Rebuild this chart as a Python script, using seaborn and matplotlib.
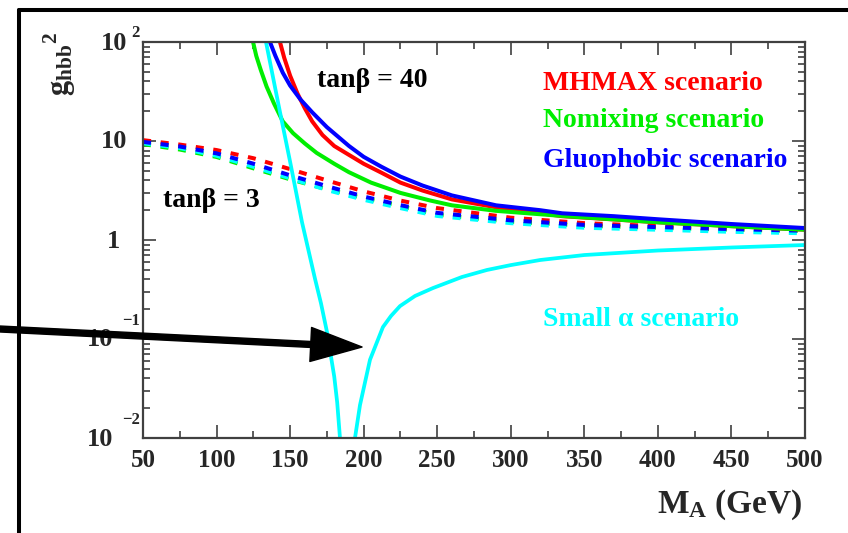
import numpy as np
import matplotlib
matplotlib.use("Agg")
import matplotlib.pyplot as plt
import seaborn as sns
from matplotlib.ticker import LogLocator, MultipleLocator, NullFormatter
from matplotlib.lines import Line2D

# tan(beta) = 40, solid curves
mhmax_m = [143.1, 146, 150, 155, 160, 165, 172, 180, 190, 200, 212, 225, 240, 260, 290, 335, 400, 450, 500]
mhmax_g = [100, 69.2, 45.7, 30.2, 21.4, 15.8, 11.5, 8.9, 7.24, 5.89, 4.79, 3.80, 3.16, 2.57, 2.14, 1.74, 1.51, 1.38, 1.27]

nomix_m = [124.8, 127, 130, 134, 139, 145, 152, 160, 168, 180, 190, 205, 225, 245, 260, 290, 335, 400, 450, 500]
nomix_g = [100, 72.4, 52.5, 35.5, 24.0, 15.8, 12.0, 9.44, 7.59, 5.89, 4.84, 3.80, 2.99, 2.51, 2.24, 1.97, 1.75, 1.51, 1.38, 1.27]

gluo_m = [136.3, 140, 145, 150, 157, 165, 175, 190, 200, 212, 225, 240, 260, 290, 320, 335, 370, 400, 450, 500]
gluo_g = [100, 72.4, 49.0, 36.3, 26.3, 19.5, 13.8, 8.91, 6.92, 5.50, 4.37, 3.55, 2.82, 2.24, 2.0, 1.86, 1.74, 1.62, 1.45, 1.32]

# small alpha: the coupling passes through zero, two branches
smalla_left_m = [133.6, 141.8, 150, 158.1, 166.9, 171, 175.1, 180, 182, 183.9]
smalla_left_g = [100, 24.5, 6.17, 1.51, 0.407, 0.229, 0.117, 0.0417, 0.0229, 0.01]
smalla_right_m = [194.1, 197.5, 204.3, 213.1, 218.6, 224.7, 234.9, 247.1, 266.8, 283.8, 300, 320, 350, 400, 450, 500]
smalla_right_g = [0.01, 0.0215, 0.0617, 0.132, 0.171, 0.215, 0.272, 0.327, 0.423, 0.498, 0.558, 0.628, 0.705, 0.783, 0.84, 0.89]

# tan(beta) = 3, dashed curves
tb3_m = [50, 75, 100, 125, 150, 175, 200, 225, 250, 300, 350, 400, 450, 500]
tb3_mhmax = [10.2, 9.2, 8.1, 6.7, 5.2, 4.0, 3.1, 2.5, 2.1, 1.68, 1.48, 1.38, 1.31, 1.26]
tb3_gluo = [9.8, 8.8, 7.5, 5.9, 4.5, 3.5, 2.75, 2.25, 1.88, 1.58, 1.42, 1.35, 1.29, 1.24]
tb3_nomix = [9.3, 8.2, 6.9, 5.3, 4.1, 3.25, 2.65, 2.2, 1.8, 1.53, 1.39, 1.33, 1.27, 1.23]
tb3_smalla = [9.5, 8.5, 7.1, 5.5, 4.2, 3.2, 2.55, 2.1, 1.75, 1.48, 1.33, 1.27, 1.21, 1.17]

ytick_vals = [0.01, 0.1, 1, 10, 100]
ytick_mant = ['10', '10', '1', '10', '10']
ytick_expo = ['-2', '-1', '', '', '2']

RED, GREEN, BLUE, CYAN = '#ff0000', '#00ee00', '#0000ff', '#00ffff'

sns.set_style("ticks")
plt.rcParams['font.family'] = ['Liberation Serif', 'DejaVu Serif']
plt.rcParams['font.weight'] = 'bold'
plt.rcParams['mathtext.fontset'] = 'custom'
plt.rcParams['mathtext.rm'] = 'Liberation Serif:bold'
plt.rcParams['mathtext.bf'] = 'Liberation Serif:bold'
plt.rcParams['mathtext.it'] = 'Liberation Serif:bold'
plt.rcParams['mathtext.default'] = 'rm'

fig = plt.figure(figsize=(8.48, 5.33), dpi=100)
ax = fig.add_axes([143/848, 95/533, 662/848, 396/533])

dash = (0, (2.0, 2.4))
for g, c in [(tb3_nomix, GREEN), (tb3_smalla, CYAN), (tb3_mhmax, RED), (tb3_gluo, BLUE)]:
    sns.lineplot(x=tb3_m, y=g, color=c, lw=2.9, linestyle=dash, errorbar=None, ax=ax)

sns.lineplot(x=mhmax_m, y=mhmax_g, color=RED, lw=2.9, errorbar=None, ax=ax)
sns.lineplot(x=nomix_m, y=nomix_g, color=GREEN, lw=2.9, errorbar=None, ax=ax)
sns.lineplot(x=gluo_m, y=gluo_g, color=BLUE, lw=2.9, errorbar=None, ax=ax)
sns.lineplot(x=smalla_left_m, y=smalla_left_g, color=CYAN, lw=2.7, errorbar=None, ax=ax)
sns.lineplot(x=smalla_right_m, y=smalla_right_g, color=CYAN, lw=2.7, errorbar=None, ax=ax)

ax.set_yscale('log')
ax.set_xlim(50, 500)
ax.set_ylim(0.01, 100)

ax.xaxis.set_major_locator(MultipleLocator(50))
ax.xaxis.set_minor_locator(MultipleLocator(25))
ax.set_yticks(ytick_vals)
ax.yaxis.set_minor_locator(LogLocator(base=10, subs=np.arange(2, 10)))
ax.yaxis.set_minor_formatter(NullFormatter())

ax.tick_params(which='both', direction='in', top=True, right=True,
               color='#404040', width=1.2, labelsize=18)
ax.tick_params(which='major', length=9.5)
ax.tick_params(which='minor', length=5)
ax.tick_params(axis='x', pad=8)
ax.tick_params(axis='y', labelleft=False)
for s in ax.spines.values():
    s.set_color('#404040')
    s.set_linewidth(1.6)

# ROOT-style decade labels: mantissa and raised exponent drawn separately
for v, mant, expo in zip(ytick_vals, ytick_mant, ytick_expo):
    if expo.startswith('-'):
        mx, ex, ey = -30, -3, 18
    elif expo:
        mx, ex, ey = -16, -3, 9
    else:
        mx = -23 if mant == '1' else -16
    ax.annotate(mant, xy=(0, v), xycoords=('axes fraction', 'data'),
                xytext=(mx, -1), textcoords='offset pixels',
                ha='right', va='center', fontsize=19, fontweight='bold')
    if expo:
        ax.annotate(expo.replace('-', '\u2212'), xy=(0, v), xycoords=('axes fraction', 'data'),
                    xytext=(ex, ey), textcoords='offset pixels',
                    ha='right', va='center', fontsize=12, fontweight='bold')

ax.set_ylabel(r'$\mathrm{g}_{\mathrm{hbb}}{}^{2}$', fontsize=22, loc='top')
ax.yaxis.set_label_coords(-0.098, 1.025)
ax.set_xlabel(r'$\mathrm{M}_{\mathrm{A}}$ (GeV)', fontsize=24, fontweight='bold', loc='right')
ax.xaxis.set_label_coords(0.997, -0.124)

txt = dict(transform=ax.transAxes, fontweight='bold', va='center')
ax.text(0.347, 0.902, 'tanβ = 40', ha='center', color='black', fontsize=20, **txt)
ax.text(0.103, 0.601, 'tanβ = 3', ha='center', color='black', fontsize=20, **txt)
ax.text(0.604, 0.896, 'MHMAX scenario', ha='left', color=RED, fontsize=20, **txt)
ax.text(0.604, 0.801, 'Nomixing scenario', ha='left', color=GREEN, fontsize=20, **txt)
ax.text(0.604, 0.702, 'Gluophobic scenario', ha='left', color=BLUE, fontsize=20, **txt)
ax.text(0.604, 0.3005, 'Small α scenario', ha='left', color=CYAN, fontsize=20, **txt)

# outer frame (open on the right and bottom)
fig.add_artist(Line2D([19/848, 1.0], [1 - 10/533, 1 - 10/533], lw=2.9, color='black'))
fig.add_artist(Line2D([19/848, 19/848], [1 - 10/533, 0.0], lw=2.9, color='black'))

# arrow pointing at the zero of the small-alpha coupling
arrow_tip = (198.9, 0.083)
arrow_tail = (0.0, 1 - 329/533)
ax.annotate('', xy=arrow_tip, xycoords='data', xytext=arrow_tail,
            textcoords='figure fraction', annotation_clip=False, zorder=10,
            arrowprops=dict(width=4.3, headwidth=24.5, headlength=37,
                            facecolor='black', edgecolor='black', shrink=0))

fig.savefig('out.png', dpi=100)
